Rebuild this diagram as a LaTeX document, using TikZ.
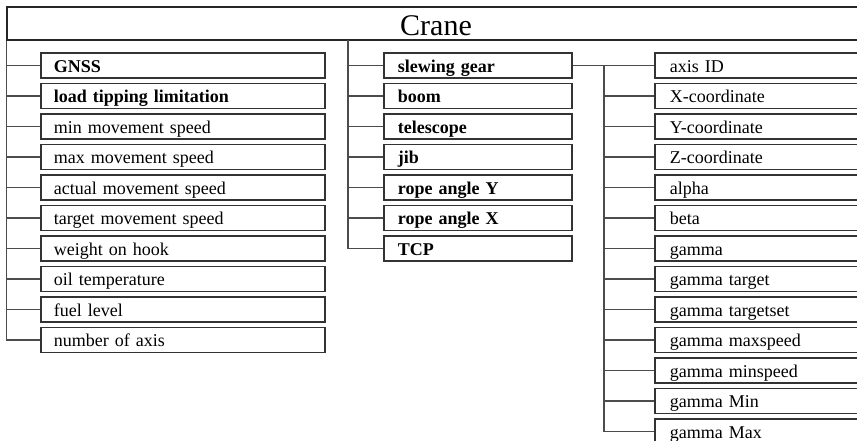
\documentclass[tikz,border=0pt]{standalone}
\usepackage{fontspec}
\setmainfont{Liberation Serif}
\begin{document}
\begin{tikzpicture}[x=1pt,y=-1pt,
  boxbase/.style={draw=black!80, line width=1.8pt, minimum height=25pt, inner ysep=0pt, text height=17pt, text depth=4pt, align=left, anchor=west, font=\fontsize{18}{20}\selectfont},
  lbox/.style={boxbase, text width=258pt, inner xsep=13pt},
  mbox/.style={boxbase, text width=160pt, inner xsep=14pt, font=\fontsize{18}{20}\selectfont\bfseries},
  rbox/.style={boxbase, text width=181pt, inner xsep=15pt},
  conn/.style={draw=black!70, line width=1.1pt}]
\clip (0,0) rectangle (857,440);
\node[draw=black!85, line width=1.8pt, minimum width=858pt, minimum height=33pt, inner sep=0pt, text height=27pt, text depth=4pt, font=\fontsize{30}{34}\selectfont] (title) at (436,23.5) {Crane};
% left column
\foreach \t [count=\i from 0] in {{\bfseries GNSS},{\bfseries load tipping limitation},min movement speed,max movement speed,actual movement speed,target movement speed,weight on hook,oil temperature,fuel level,number of axis}
  \node[lbox] (L\i) at (40,{65.5+30.5*\i}) {\t};
% middle column
\foreach \t [count=\i from 0] in {slewing gear,boom,telescope,jib,rope angle Y,rope angle X,TCP}
  \node[mbox] (M\i) at (383,{65.5+30.5*\i}) {\t};
% right column
\foreach \t [count=\i from 0] in {axis ID,X-coordinate,Y-coordinate,Z-coordinate,alpha,beta,gamma,gamma target,gamma targetset,gamma maxspeed,gamma minspeed,gamma Min,gamma Max}
  \node[rbox] (R\i) at (654,{65.5+30.5*\i}) {\t};
\coordinate (ms) at (348,40);
\coordinate (rs) at (604,65.5);
% connectors
\draw[conn] (title.south west) |- (L9.west);
\foreach \i in {0,...,8} \draw[conn] (L\i.west) -- (L\i.west -| title.west);
\draw[conn] (ms) |- (M6.west);
\foreach \i in {0,...,5} \draw[conn] (M\i.west) -- (M\i.west -| ms);
\draw[conn] (M0.east) -- (R0.west);
\draw[conn] (rs) |- (R12.west);
\foreach \i in {1,...,11} \draw[conn] (R\i.west) -- (R\i.west -| rs);
\end{tikzpicture}
\end{document}
